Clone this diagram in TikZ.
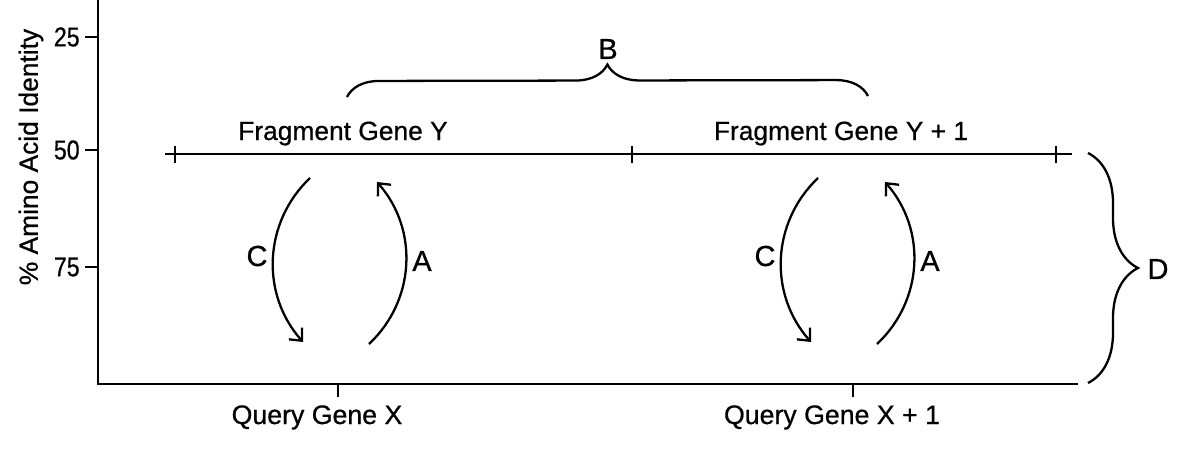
\documentclass[tikz,border=0pt]{standalone}
\usepackage{fontspec}
\setmainfont{Liberation Sans}[RawFeature={embolden=0.7}]
\usetikzlibrary{arrows.meta,decorations.pathreplacing}

\tikzset{
  axisline/.style={line width=1.5pt},
  tickline/.style={line width=1.3pt},
  arcarrow/.style={line width=1.3pt, -{Straight Barb[length=5.5pt,width=10pt]}, bend right=44},
  bracket/.style={line width=1.3pt, decorate, decoration={brace, amplitude=#1}},
  ticklabel/.style={inner sep=0pt, anchor=east, font=\fontsize{15.5}{18}\selectfont},
  genelabel/.style={inner sep=0pt, anchor=base, font=\fontsize{15.2}{18}\selectfont},
  fraglabel/.style={inner sep=0pt, anchor=base, font=\fontsize{15}{18}\selectfont},
  letter/.style={inner sep=0pt, font=\fontsize{16.5}{19}\selectfont},
}

\begin{document}
\begin{tikzpicture}[x=0.02cm, y=-0.02cm]
\useasboundingbox (0,0) rectangle (1200,450);

% Axes.
\coordinate (ytop) at (98,0);
\coordinate (origin) at (98,384);
\coordinate (xend) at (1078,384);
\draw[axisline] (ytop) -- (origin) -- (xend);

\foreach \v/\y in {25/37, 50/150, 75/267} {
  \draw[tickline] (85,\y) -- (98,\y);
  \node[ticklabel] (tick\v) at (80,\y) {\scalebox{0.85}[1]{\v}};
}
\node[rotate=90, font=\fontsize{15}{18}\selectfont] (ytitle) at (31,157) {\% Amino Acid Identity};

% Query genes.
\draw[tickline] (338,384) -- (338,397);
\draw[tickline] (853,384) -- (853,397);
\node[genelabel] (queryX) at (317,424) {Query Gene X};
\node[genelabel] (queryX1) at (832,424) {Query Gene X + 1};

% Fragment genes.
\coordinate (fragL) at (165,154);
\coordinate (fragR) at (1072,154);
\draw[tickline] (fragL) -- (fragR);
\draw[tickline] (175,146) -- (175,163);
\draw[tickline] (632,146) -- (632,163);
\draw[tickline] (1056,146) -- (1056,163);
\node[fraglabel] (fragY) at (343,140) {Fragment Gene Y};
\node[fraglabel] (fragY1) at (841,140) {Fragment Gene Y + 1};

% Arcs between query and fragment.
\foreach \dx/\n in {0/1, 508/2} {
  \coordinate (cs\n) at ({310+\dx},178);
  \coordinate (ce\n) at ({303+\dx},342);
  \coordinate (as\n) at ({369+\dx},344);
  \coordinate (ae\n) at ({377+\dx},182);
  \draw[arcarrow] (cs\n) to (ce\n);
  \draw[arcarrow] (as\n) to (ae\n);
  \node[letter] (labC\n) at ({257+\dx},256) {C};
  \node[letter] (labA\n) at ({422+\dx},261) {A};
}

% Braces.
\coordinate (bL) at (347,97);
\coordinate (bR) at (868,96);
\draw[bracket=0.64cm] (bL) -- (bR);
\node[letter] (labB) at (608,49) {B};

\coordinate (dT) at (1088,153);
\coordinate (dB) at (1088,383);
\draw[bracket=1cm] (dT) -- (dB);
\node[letter] (labD) at (1158,269) {D};

\end{tikzpicture}
\end{document}
